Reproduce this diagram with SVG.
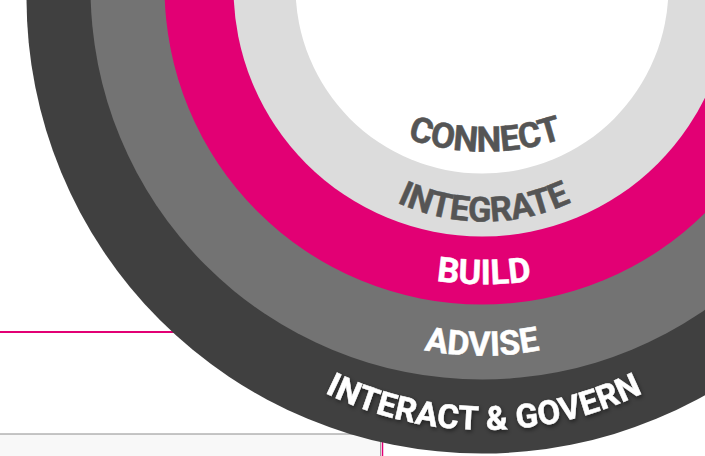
<svg xmlns="http://www.w3.org/2000/svg" width="705" height="456" viewBox="0 0 705 456">
<style>
.lbl{font-family:"Roboto","Liberation Sans",sans-serif;font-weight:700;text-anchor:middle;stroke-width:0.5;paint-order:stroke}
.d{fill:#555555;stroke:#555555}
.w{fill:#ffffff;stroke:#ffffff}
</style>
<defs>
<filter id="sh" x="-10%" y="-30%" width="120%" height="160%"><feDropShadow dx="1" dy="2" stdDeviation="2" flood-color="#000" flood-opacity="0.5"/></filter>
<path id="p1" d="M 400 136 A 240 240 0 0 0 570 136"/>
<path id="p2" d="M 390 199 A 207 207 0 0 0 578 199"/>
<path id="p3" d="M 420 278 A 330 330 0 0 0 548 278"/>
<path id="p4" d="M 410 347 A 300 300 0 0 0 554 347"/>
<path id="p5" d="M 310 385 A 360 360 0 0 0 658 385"/>
</defs>
<rect width="705" height="456" fill="#ffffff"/>
<g id="panel">
<rect x="0" y="434" width="381" height="22" fill="#f8f8f8"/>
<line x1="0" y1="332" x2="180" y2="332" stroke="#e20074" stroke-width="2"/>
<line x1="0" y1="434" x2="381" y2="434" stroke="#8c8c8c" stroke-width="1"/>
<line x1="380.5" y1="434" x2="380.5" y2="456" stroke="#a0a0a0" stroke-width="1"/>
<line x1="382.5" y1="434" x2="382.5" y2="456" stroke="#e20074" stroke-width="1.5"/>
</g>
<g id="rings">
<circle id="ring-interact" cx="482" cy="-2" r="455.5" fill="#404040"/>
<circle id="ring-advise" cx="482" cy="-12" r="391.5" fill="#737373"/>
<circle id="ring-build" cx="482" cy="-13" r="317.5" fill="#e20074"/>
<circle id="ring-integrate" cx="482" cy="-12" r="248.5" fill="#dcdcdc"/>
<circle id="ring-connect" cx="482" cy="-13" r="186.5" fill="#ffffff"/>
</g>
<g id="labels">
<text id="connect" class="lbl d" font-size="35" letter-spacing="-0.3"><textPath href="#p1" startOffset="50%">CONNECT</textPath></text>
<text id="integrate" class="lbl d" font-size="34.5" letter-spacing="-0.3"><textPath href="#p2" startOffset="50%">INTEGRATE</textPath></text>
<text id="build" class="lbl w" font-size="34.5"><textPath href="#p3" startOffset="50%">BUILD</textPath></text>
<text id="advise" class="lbl w" font-size="34"><textPath href="#p4" startOffset="50%">ADVISE</textPath></text>
<text id="interact" class="lbl w" font-size="33" letter-spacing="0.4" filter="url(#sh)"><textPath href="#p5" startOffset="50%">INTERACT &amp; GOVERN</textPath></text>
</g>
</svg>
